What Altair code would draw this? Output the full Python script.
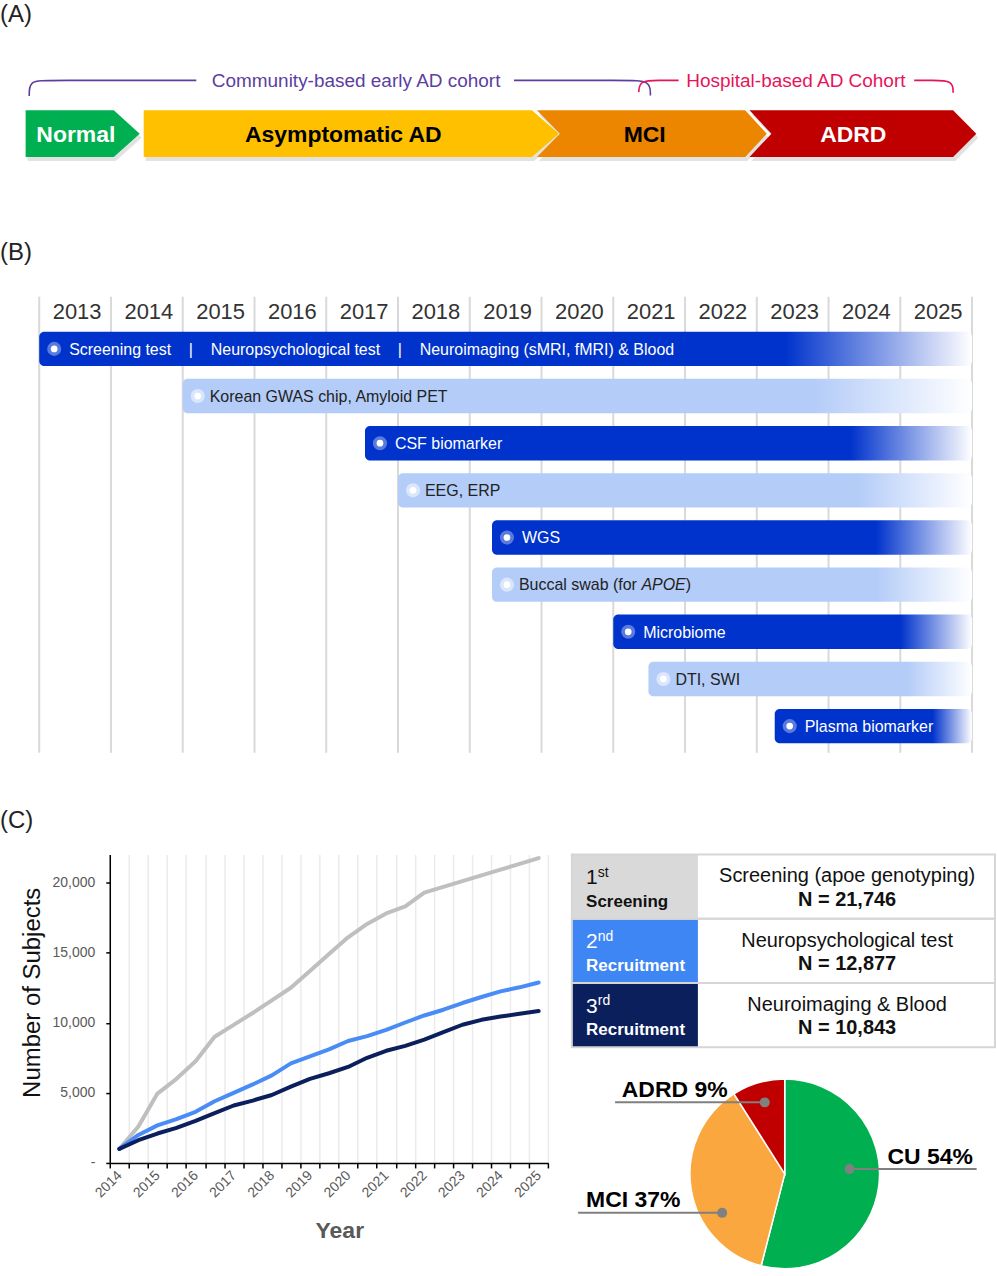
import altair as alt
import pandas as pd

FONT = "Liberation Sans"

# ============================ DATA ============================
# (A) disease continuum and cohorts
stage_names = ["Normal", "Asymptomatic AD", "MCI", "ADRD"]
cohort_names = ["Community-based early AD cohort", "Hospital-based AD Cohort"]

# (B) assessments timeline
timeline_years = [2013, 2014, 2015, 2016, 2017, 2018, 2019, 2020, 2021, 2022, 2023, 2024, 2025]
SEP = "\u00a0" * 4 + "|" + "\u00a0" * 4
assess_labels = [
    "Screening test" + SEP + "Neuropsychological test" + SEP + "Neuroimaging (sMRI, fMRI) & Blood",
    "Korean GWAS chip, Amyloid PET",
    "CSF biomarker",
    "EEG, ERP",
    "WGS",
    "Buccal swab (for",
    "Microbiome",
    "DTI, SWI",
    "Plasma biomarker",
]
assess_gene = ["", "", "", "", "", "APOE", "", "", ""]
assess_start = [2013.0, 2015.0, 2017.54, 2018.0, 2019.31, 2019.31, 2021.0, 2021.49, 2023.25]
assess_end = [2026.0, 2026.0, 2026.0, 2026.0, 2026.0, 2026.0, 2026.0, 2026.0, 2026.0]
assess_tone = ["dark", "light", "dark", "light", "dark", "light", "dark", "light", "dark"]

# (C) cumulative enrolment (half-year points)
half_years = [2014.0, 2014.5, 2015.0, 2015.5, 2016.0, 2016.5, 2017.0, 2017.5, 2018.0, 2018.5,
              2019.0, 2019.5, 2020.0, 2020.5, 2021.0, 2021.5, 2022.0, 2022.5, 2023.0, 2023.5,
              2024.0, 2024.5, 2025.0]
screening_n = [1000, 2600, 4950, 6000, 7250, 9000, 9850, 10700, 11600, 12500, 13700, 14900,
               16100, 17050, 17800, 18300, 19280, 19690, 20100, 20510, 20920, 21330, 21746]
neuropsych_n = [1000, 2000, 2680, 3120, 3650, 4400, 5000, 5600, 6250, 7100, 7600, 8100,
                8700, 9050, 9500, 10020, 10520, 10930, 11410, 11840, 12240, 12530, 12877]
imaging_n = [1000, 1620, 2100, 2500, 3000, 3550, 4100, 4450, 4850, 5450, 6000, 6400,
             6850, 7500, 8000, 8350, 8800, 9330, 9860, 10210, 10450, 10640, 10843]
series_names = ["1st Screening", "2nd Recruitment", "3rd Recruitment"]

table_rank = ["1", "2", "3"]
table_suffix = ["st", "nd", "rd"]
table_role = ["Screening", "Recruitment", "Recruitment"]
table_desc = ["Screening (apoe genotyping)", "Neuropsychological test", "Neuroimaging & Blood"]
table_n = [21746, 12877, 10843]

dx_labels = ["CU", "MCI", "ADRD"]
dx_share = [54, 37, 9]

# ============================ STYLE / LAYOUT ============================
W = 997
H_A, H_B = 225, 630
GUTTER, LINE_W, MID_GAP, RIGHT_W = 110, 439.3, 22.4, 425.3
LINE_H, TABLE_H, PIE_H = 309, 193, 228

stage_fill = ["#00B050", "#FFC000", "#EC8600", "#C00000"]
stage_ink = ["#FFFFFF", "#000000", "#000000", "#FFFFFF"]
cohort_colors = ["#5B3EA0", "#E6145A"]
dark_blue, light_blue = "#0033CC", "#B4CCF8"
series_colors = ["#BFBFBF", "#4A8CF6", "#0B1F5C"]
table_fill = ["#D9D9D9", "#3F86F5", "#0A1F5C"]
table_ink = ["#111111", "#FFFFFF", "#FFFFFF"]
dx_fill = ["#00B050", "#F9A73E", "#C00000"]


def panel_label(text, x, y):
    return alt.Chart(pd.DataFrame({"t": [text]})).mark_text(
        align="left", baseline="alphabetic", fontSize=24, color="#222222"
    ).encode(x=alt.value(x), y=alt.value(y), text="t:N")


# ============================ PANEL A ============================
xA = alt.Scale(domain=[0, W], nice=False, zero=False)
yA = alt.Scale(domain=[0, H_A], nice=False, zero=False, reverse=True)

chev_top, chev_mid, chev_bot = 109.3, 132.7, 156.0
chev_x0 = [25.7, 144.0, 538.0, 751.0]
chev_x1 = [114.0, 533.0, 746.7, 955.0]
chev_notch = [0, 0, 23, 22]
chev_tip = [26, 27, 21.6, 23.3]
chev_label_x = [76, 344, 646, 855]

chev_rows = []
for s, x0, x1, n, t in zip(stage_names, chev_x0, chev_x1, chev_notch, chev_tip):
    for y, k in ((chev_top, 0), (chev_mid, 1), (chev_bot, 0)):
        chev_rows.append({"stage": s, "y": y, "xl": x0 + n * k, "xr": x1 + t * k})
chev_df = pd.DataFrame(chev_rows)

shadow = alt.Chart(chev_df).mark_area(
    orient="horizontal", color="#8A8A8A", opacity=0.25, xOffset=2, x2Offset=2, yOffset=4
).encode(
    y=alt.Y("y:Q", scale=yA, axis=None),
    x=alt.X("xl:Q", scale=xA, axis=None),
    x2="xr:Q",
    detail="stage:N",
)
chevrons = alt.Chart(chev_df).mark_area(orient="horizontal").encode(
    y=alt.Y("y:Q", scale=yA, axis=None),
    x=alt.X("xl:Q", scale=xA, axis=None),
    x2="xr:Q",
    fill=alt.Fill("stage:N", scale=alt.Scale(domain=stage_names, range=stage_fill), legend=None),
)
stage_df = pd.DataFrame({"stage": stage_names, "lx": chev_label_x, "ly": [141.5] * 4})
stage_text = alt.Chart(stage_df).mark_text(
    fontSize=23, fontWeight="bold", baseline="alphabetic", align="center"
).encode(
    x=alt.X("lx:Q", scale=xA, axis=None),
    y=alt.Y("ly:Q", scale=yA, axis=None),
    text="stage:N",
    color=alt.Color("stage:N", scale=alt.Scale(domain=stage_names, range=stage_ink), legend=None),
)

# cohort brackets (B-spline control points)
bracket_pts = {
    "c_left": [(29.3, 95.0), (29.3, 79.3), (48.0, 79.3), (196.7, 79.3)],
    "c_right": [(515.0, 79.3), (628.0, 79.3), (651.7, 79.3), (651.7, 94.3)],
    "h_left": [(640.0, 91.0), (641.0, 79.3), (660.0, 79.3), (680.0, 79.3)],
    "h_right": [(916.0, 79.3), (934.0, 79.3), (955.0, 79.3), (955.0, 91.7)],
}
br_rows = []
for seg, pts in bracket_pts.items():
    for i, (bx, by) in enumerate(pts):
        br_rows.append({"seg": seg, "cohort": cohort_names[0] if seg.startswith("c") else cohort_names[1],
                        "seq": i, "bx": bx, "by": by})
br_df = pd.DataFrame(br_rows)
brackets = alt.Chart(br_df).mark_line(interpolate="basis", strokeWidth=1.6).encode(
    x=alt.X("bx:Q", scale=xA, axis=None),
    y=alt.Y("by:Q", scale=yA, axis=None),
    detail="seg:N",
    order="seq:Q",
    stroke=alt.Stroke("cohort:N", scale=alt.Scale(domain=cohort_names, range=cohort_colors), legend=None),
)
cohort_df = pd.DataFrame({"cohort": cohort_names, "cx": [356.8, 797.5], "cy": [86.3, 86.3]})
cohort_text = alt.Chart(cohort_df).mark_text(fontSize=19, baseline="alphabetic", align="center").encode(
    x=alt.X("cx:Q", scale=xA, axis=None),
    y=alt.Y("cy:Q", scale=yA, axis=None),
    text="cohort:N",
    color=alt.Color("cohort:N", scale=alt.Scale(domain=cohort_names, range=cohort_colors), legend=None),
)

panel_a = alt.layer(
    shadow, chevrons, stage_text, brackets, cohort_text, panel_label("(A)", 0, 21)
).resolve_scale(color="independent", fill="independent", stroke="independent").properties(
    width=W, height=H_A
)

# ============================ PANEL B ============================
xB = alt.Scale(domain=[2012.4534, 2026.3199], nice=False, zero=False)
yB = alt.Scale(domain=[-2.6095, 10.7238], nice=False, zero=False, reverse=True)

grid_df = pd.DataFrame({"yr": timeline_years + [timeline_years[-1] + 1]})
grid_df["top"] = -1.107
grid_df["bot"] = 8.565
grid = alt.Chart(grid_df).mark_rule(color="#D9D9D9", strokeWidth=2).encode(
    x=alt.X("yr:Q", scale=xB, axis=None),
    y=alt.Y("top:Q", scale=yB, axis=None),
    y2="bot:Q",
)
yr_df = pd.DataFrame({"yr": timeline_years})
yr_df["mid"] = yr_df["yr"] + 0.5
yr_df["row"] = -0.635
year_text = alt.Chart(yr_df).mark_text(fontSize=22, color="#333333", baseline="alphabetic", dx=2).encode(
    x=alt.X("mid:Q", scale=xB, axis=None),
    y=alt.Y("row:Q", scale=yB, axis=None),
    text="yr:N",
)

bar_df = pd.DataFrame({
    "row": list(range(len(assess_labels))),
    "label": assess_labels,
    "gene": assess_gene,
    "start": assess_start,
    "end": assess_end,
    "tone": assess_tone,
})
bar_df["r0"] = bar_df["row"] - 0.365
bar_df["r1"] = bar_df["row"] + 0.365


def fade(c):
    return alt.Gradient(
        gradient="linear",
        stops=[alt.GradientStop(color=c, offset=0), alt.GradientStop(color=c, offset=0.8),
               alt.GradientStop(color="#FFFFFF", offset=1)],
        x1=0, x2=1, y1=0, y2=0,
    )


bar_base = alt.Chart(bar_df)
bars = []
for tone, col, ring_op, ink, ddx in (("dark", dark_blue, 0.35, "#FFFFFF", 30.0),
                                     ("light", light_blue, 0.5, "#222222", 27.0)):
    sub = bar_base.transform_filter(alt.datum.tone == tone)
    bars.append(sub.mark_rect(fill=fade(col), cornerRadius=5).encode(
        x=alt.X("start:Q", scale=xB, axis=None), x2="end:Q",
        y=alt.Y("r0:Q", scale=yB, axis=None), y2="r1:Q"))
    bars.append(sub.mark_point(filled=True, size=200, color="#FFFFFF", opacity=ring_op, xOffset=15).encode(
        x=alt.X("start:Q", scale=xB, axis=None), y=alt.Y("row:Q", scale=yB, axis=None)))
    bars.append(sub.mark_point(filled=True, size=45, color="#FFFFFF", opacity=1, xOffset=15).encode(
        x=alt.X("start:Q", scale=xB, axis=None), y=alt.Y("row:Q", scale=yB, axis=None)))
    bars.append(sub.mark_text(align="left", baseline="alphabetic", fontSize=16, dx=ddx, dy=5.8, color=ink).encode(
        x=alt.X("start:Q", scale=xB, axis=None), y=alt.Y("row:Q", scale=yB, axis=None), text="label:N"))

gene_sub = bar_base.transform_filter(alt.datum.gene != "")
gene_text = gene_sub.mark_text(align="left", baseline="alphabetic", fontSize=16, dx=27.0 + 122.7, dy=5.8,
                               fontStyle="italic", color="#222222").encode(
    x=alt.X("start:Q", scale=xB, axis=None), y=alt.Y("row:Q", scale=yB, axis=None), text="gene:N")
gene_close = gene_sub.mark_text(align="left", baseline="alphabetic", fontSize=16, dx=27.0 + 122.7 + 44.5,
                                dy=5.8, color="#222222", text=")").encode(
    x=alt.X("start:Q", scale=xB, axis=None), y=alt.Y("row:Q", scale=yB, axis=None))

panel_b = alt.layer(
    grid, year_text, *bars, gene_text, gene_close,
    panel_label("(B)", 0, 34.5), panel_label("(C)", 0, 603.5)
).properties(width=W, height=H_B)

# ============================ PANEL C: line chart ============================
n_pts = len(half_years)
lc_df = pd.DataFrame({
    "period": half_years * 3,
    "series": [series_names[0]] * n_pts + [series_names[1]] * n_pts + [series_names[2]] * n_pts,
    "n": screening_n + neuropsych_n + imaging_n,
})
boundary_ticks = [half_years[0] - 0.25 + 0.5 * k for k in range(n_pts + 1)]

line_chart = alt.Chart(lc_df).mark_line(strokeWidth=4, strokeCap="round", strokeJoin="round").encode(
    x=alt.X("period:Q",
            scale=alt.Scale(domain=[boundary_ticks[0], boundary_ticks[-1]], nice=False, zero=False),
            axis=alt.Axis(values=boundary_ticks, grid=True, gridColor="#EBEBEB", gridWidth=1.5,
                          domainColor="#000000", domainWidth=1.5, tickColor="#000000", tickSize=5,
                          tickWidth=1.5, labelAngle=-45, labelAlign="right", labelBaseline="middle",
                          labelOffset=9.55, labelPadding=5,
                          labelExpr="(datum.value + 0.25) % 1 == 0 ? format(datum.value + 0.25, 'd') : ''",
                          labelFontSize=14, labelColor="#595959", labelOverlap=False, labelFlush=False,
                          title="Year", titleFontSize=23, titleFontWeight="bold", titleColor="#595959",
                          titlePadding=20, titleX=230)),
    y=alt.Y("n:Q", scale=alt.Scale(domain=[0, 22000], nice=False, zero=True),
            axis=alt.Axis(values=[0, 5000, 10000, 15000, 20000], grid=False, domainColor="#000000",
                          domainWidth=1.5, tickColor="#000000", tickSize=4, tickWidth=1.5,
                          labelExpr="datum.value == 0 ? '-' : format(datum.value, ',')",
                          labelFontSize=14, labelColor="#595959", labelPadding=11,
                          title="Number of Subjects", titleFontSize=24, titleFontWeight="normal",
                          titleColor="#111111", titlePadding=8, titleY=138)),
    color=alt.Color("series:N", scale=alt.Scale(domain=series_names, range=series_colors), legend=None),
).properties(width=LINE_W, height=LINE_H)

# ============================ PANEL C: table ============================
tbl_df = pd.DataFrame({"rank": table_rank, "suffix": table_suffix, "role": table_role,
                       "desc": table_desc, "n": table_n})
tbase = alt.Chart(tbl_df).transform_calculate(ntext="'N = ' + format(datum.n, ',')")
y_tbl = alt.Y("rank:N", scale=alt.Scale(domain=table_rank, paddingInner=0, paddingOuter=0), axis=None)
ink = alt.Color("rank:N", scale=alt.Scale(domain=table_rank, range=table_ink), legend=None)
left_cells = tbase.mark_rect().encode(
    y=y_tbl, x=alt.value(0), x2=alt.value(126.3),
    fill=alt.Fill("rank:N", scale=alt.Scale(domain=table_rank, range=table_fill), legend=None))
borders = tbase.mark_rect(fillOpacity=0, stroke="#D6D6D6", strokeWidth=2).encode(
    y=y_tbl, x=alt.value(0), x2=alt.value(424))
rank_txt = tbase.mark_text(align="left", baseline="alphabetic", fontSize=21, dy=-2.5).encode(
    y=y_tbl, x=alt.value(14.3), text="rank:N", color=ink)
sup_txt = tbase.mark_text(align="left", baseline="alphabetic", fontSize=14, dy=-9.8).encode(
    y=y_tbl, x=alt.value(26), text="suffix:N", color=ink)
role_txt = tbase.mark_text(align="left", baseline="alphabetic", fontSize=17, fontWeight="bold", dy=20.3).encode(
    y=y_tbl, x=alt.value(14.3), text="role:N", color=ink)
desc_txt = tbase.mark_text(align="center", baseline="alphabetic", fontSize=20, dy=-4.2, color="#111111").encode(
    y=y_tbl, x=alt.value(275.8), text="desc:N")
n_txt = tbase.mark_text(align="center", baseline="alphabetic", fontSize=20, fontWeight="bold", dy=19.3,
                        color="#111111").encode(y=y_tbl, x=alt.value(275.8), text="ntext:N")
table = alt.layer(left_cells, borders, rank_txt, sup_txt, role_txt, desc_txt, n_txt).resolve_scale(
    color="independent", fill="independent").properties(width=RIGHT_W, height=TABLE_H)

# ============================ PANEL C: pie ============================
pie_df = pd.DataFrame({"dx": dx_labels, "share": dx_share, "idx": list(range(len(dx_labels)))})
pie = alt.Chart(pie_df).mark_arc(outerRadius=95, stroke="#FFFFFF", strokeWidth=1.5).encode(
    theta=alt.Theta("share:Q", stack=True),
    order=alt.Order("idx:Q"),
    fill=alt.Fill("dx:N", scale=alt.Scale(domain=dx_labels, range=dx_fill), legend=None),
    x=alt.value(213.3), y=alt.value(127),
)
# callout layout: label text position, leader line span, dot position
callouts = {
    "CU": dict(tx=316.3, ty=117.0, lx0=278.3, lx1=405.6, ly=122.0, dot=278.3),
    "MCI": dict(tx=14.3, ty=160.3, lx0=6.3, lx1=150.6, ly=166.0, dot=150.6),
    "ADRD": dict(tx=50.0, ty=49.7, lx0=43.3, lx1=193.3, ly=55.3, dot=193.3),
}
call_layers = []
for lab, share in zip(dx_labels, dx_share):
    c = callouts[lab]
    cdf = pd.DataFrame({"t": [f"{lab} {share}%"]})
    call_layers.append(alt.Chart(cdf).mark_rule(color="#7F7F7F", strokeWidth=2).encode(
        x=alt.value(c["lx0"]), x2=alt.value(c["lx1"]), y=alt.value(c["ly"])))
    call_layers.append(alt.Chart(cdf).mark_point(filled=True, size=100, color="#808080", opacity=1).encode(
        x=alt.value(c["dot"]), y=alt.value(c["ly"])))
    call_layers.append(alt.Chart(cdf).mark_text(align="left", baseline="alphabetic", fontSize=23,
                                                fontWeight="bold", color="#000000").encode(
        x=alt.value(c["tx"]), y=alt.value(c["ty"]), text="t:N"))
pie_panel = alt.layer(pie, *call_layers).properties(width=RIGHT_W, height=PIE_H)

# ============================ ASSEMBLY ============================
def spacer(w, h):
    return alt.Chart(pd.DataFrame({"s": [0]})).mark_point(opacity=0).properties(width=w, height=h)


right_col = alt.vconcat(table, pie_panel, spacing=0, bounds="flush").resolve_scale(
    color="independent", fill="independent")
panel_c = alt.hconcat(spacer(GUTTER, LINE_H), line_chart, spacer(MID_GAP, LINE_H), right_col,
                      spacing=0, bounds="flush").resolve_scale(color="independent", fill="independent")

chart = alt.vconcat(panel_a, panel_b, panel_c, spacing=0, bounds="flush").resolve_scale(
    color="independent", fill="independent", stroke="independent"
).properties(padding=0).configure(font=FONT).configure_view(stroke=None)

chart.save("out.html", embed_options={"renderer": "svg", "actions": False})
